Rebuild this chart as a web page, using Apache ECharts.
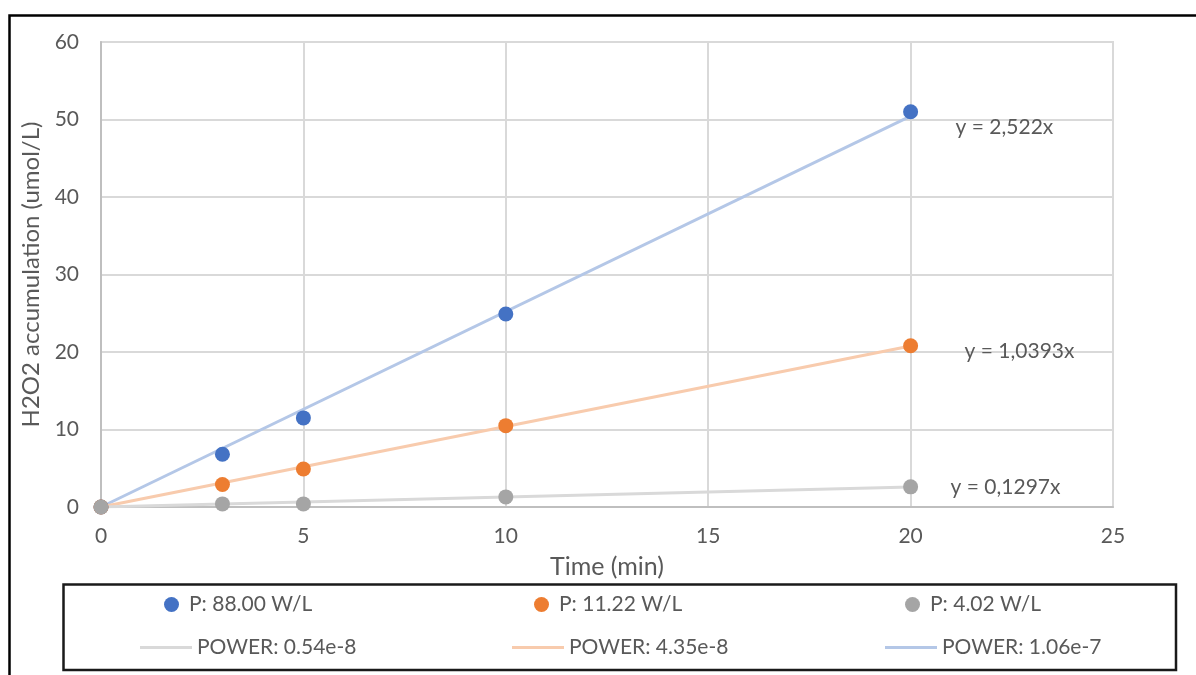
<!DOCTYPE html>
<html>
<head>
<meta charset="utf-8">
<script src="https://cdn.jsdelivr.net/npm/echarts@6/dist/echarts.min.js"></script>
<style>
  html, body { margin: 0; padding: 0; background: #fff; }
  #chart { width: 1196px; height: 675px; }
</style>
</head>
<body>
<div id="chart"></div>
<script>
// Sampling times (min)
const times = [0, 3, 5, 10, 20];

// Measured H2O2 accumulation (umol/L) per power density
const seriesNames = ['P: 88.00 W/L', 'P: 11.22 W/L', 'P: 4.02 W/L'];
const valuesHigh = [0, 6.8, 11.5, 24.9, 51.0];
const valuesMid = [0, 2.9, 4.9, 10.5, 20.8];
const valuesLow = [0, 0.4, 0.4, 1.3, 2.6];

// Linear fits through the origin (slopes shown on the chart)
const slopes = [2.522, 1.0393, 0.1297];
const slopeLabels = ['y = 2,522x', 'y = 1,0393x', 'y = 0,1297x'];
const fitNames = ['POWER: 1.06e-7', 'POWER: 4.35e-8', 'POWER: 0.54e-8'];

// Axis ticks
const xTicks = [0, 5, 10, 15, 20, 25];
const yTicks = [0, 10, 20, 30, 40, 50, 60];

const FONT = 'Lato, "Open Sans", sans-serif';
const TEXT = '#595959';

const markerColors = ['#4472C4', '#ED7D31', '#A5A5A5'];
const fitColors = ['#B4C7E7', '#F8CBAD', '#D9D9D9'];
const labelOffsets = [[40, 11], [49, 5], [35, 0]];

const measured = [valuesHigh, valuesMid, valuesLow];

const series = [];
// fit lines first so the markers sit on top
slopes.forEach((k, i) => {
  const xEnd = times[times.length - 1];
  series.push({
    name: fitNames[i],
    type: 'line',
    data: [[0, 0], [xEnd, k * xEnd]],
    showSymbol: false,
    symbol: 'none',
    lineStyle: { color: fitColors[i], width: 3 },
    itemStyle: { color: fitColors[i] },
    z: 2,
    silent: true,
    markPoint: {
      symbol: 'circle', symbolSize: 0,
      data: [{ coord: [xEnd, k * xEnd] }],
      label: {
        show: true, position: 'right', offset: labelOffsets[i],
        formatter: slopeLabels[i], color: TEXT, fontSize: 21, fontFamily: FONT
      }
    }
  });
});
measured.forEach((vals, i) => {
  series.push({
    name: seriesNames[i],
    type: 'scatter',
    data: times.map((t, j) => [t, vals[j]]),
    symbol: 'circle',
    symbolSize: 15,
    itemStyle: { color: markerColors[i], opacity: 1 },
    z: 3 + i
  });
});

function legendItem(name, left, top, isLine) {
  return {
    data: [name],
    left: left,
    top: top,
    padding: 0,
    icon: isLine ? 'rect' : 'circle',
    itemWidth: isLine ? 52 : 15,
    itemHeight: isLine ? 3 : 15,
    selectedMode: false,
    textStyle: { color: TEXT, fontSize: 21, fontFamily: FONT, padding: [0, 0, 0, isLine ? 0 : 5] }
  };
}

const option = {
  animation: false,
  backgroundColor: '#fff',
  grid: {
    left: 101, right: 83, top: 42, bottom: 168,
    show: true, borderColor: '#D9D9D9', borderWidth: 2
  },
  xAxis: {
    type: 'value',
    min: xTicks[0], max: xTicks[xTicks.length - 1], interval: 5,
    name: 'Time (min)', nameLocation: 'middle', nameGap: 47,
    nameTextStyle: { color: TEXT, fontSize: 25, fontFamily: FONT },
    axisLine: { show: true, lineStyle: { color: '#BFBFBF', width: 2 } },
    axisTick: { show: false },
    axisLabel: { color: TEXT, fontSize: 21, fontFamily: FONT, margin: 19 },
    splitLine: { show: true, lineStyle: { color: '#D9D9D9', width: 2 } }
  },
  yAxis: {
    type: 'value',
    min: yTicks[0], max: yTicks[yTicks.length - 1], interval: 10,
    name: 'H2O2 accumulation (umol/L)', nameLocation: 'middle', nameGap: 57,
    nameTextStyle: { color: TEXT, fontSize: 24, fontFamily: FONT },
    axisLine: { show: true, lineStyle: { color: '#BFBFBF', width: 2 } },
    axisTick: { show: false },
    axisLabel: { color: TEXT, fontSize: 21, fontFamily: FONT, margin: 22 },
    splitLine: { show: true, lineStyle: { color: '#D9D9D9', width: 2 } }
  },
  legend: [
    legendItem(seriesNames[0], 164, 594, false),
    legendItem(seriesNames[1], 534, 594, false),
    legendItem(seriesNames[2], 905, 594, false),
    legendItem(fitNames[2], 140, 637, true),
    legendItem(fitNames[1], 512, 637, true),
    legendItem(fitNames[0], 885, 637, true)
  ],
  graphic: [
    {
      type: 'rect', silent: true, z: 10,
      shape: { x: 9.5, y: 15.5, width: 1300, height: 800 },
      style: { fill: 'none', stroke: '#000', lineWidth: 2.5 }
    },
    {
      type: 'rect', silent: true, z: 10,
      shape: { x: 63.5, y: 584.5, width: 1112.5, height: 85.5 },
      style: { fill: 'none', stroke: '#1a1a1a', lineWidth: 2.5 }
    }
  ],
  series: series
};

const chart = echarts.init(document.getElementById('chart'), null, { renderer: 'canvas' });
chart.setOption(option);
</script>
</body>
</html>
